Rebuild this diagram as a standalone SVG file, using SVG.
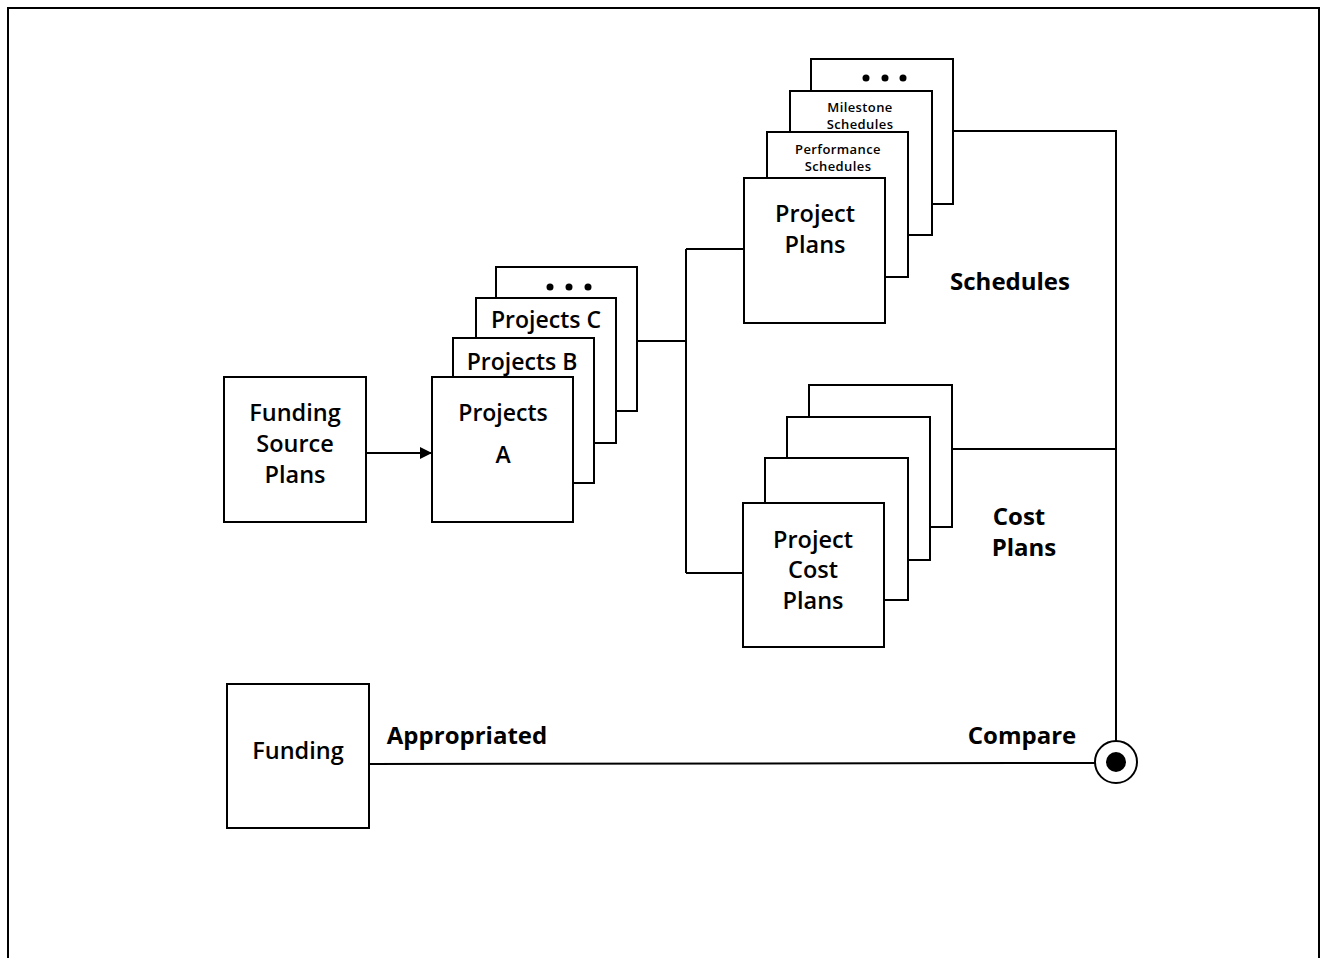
<svg xmlns="http://www.w3.org/2000/svg" width="1320" height="958" viewBox="0 0 1320 958">
  <defs>
    <marker id="arrow" markerWidth="12" markerHeight="12" refX="11" refY="6" orient="auto" markerUnits="userSpaceOnUse">
      <path d="M0,0 L12,6 L0,12 Z" fill="#000"/>
    </marker>
    <style>
      .box { fill: #fff; stroke: #000; stroke-width: 2; }
      .wire { fill: none; stroke: #000; stroke-width: 2; }
      text { font-family: "Open Sans", "Noto Sans", sans-serif; fill: #000; text-anchor: middle; font-weight: 600; }
      .big { font-size: 23.5px; }
      .mid { font-size: 23px; }
      .small { font-size: 13px; letter-spacing: 0.4px; }
      .lbl { font-size: 24px; font-weight: bold; }
      .dot { fill: #000; }
    </style>
  </defs>
  <rect width="1320" height="958" fill="#fff"/>
  <!-- frame -->
  <path d="M8,958 L8,8 L1319,8 L1319,958" fill="none" stroke="#000" stroke-width="2"/>

  <!-- connectors -->
  <g id="connectors">
    <line class="wire" x1="366" y1="453" x2="431" y2="453" marker-end="url(#arrow)"/>
    <path class="wire" d="M637,341 H686 M686,249 V573 M686,249 H744 M686,573 H743"/>
    <path class="wire" d="M953,131 H1116 V741 M952,449 H1116"/>
    <line class="wire" x1="369" y1="764" x2="1095" y2="763"/>
    <line class="wire" x1="1116" y1="741" x2="1116" y2="762"/>
  </g>

  <g id="funding-source-plans">
    <rect class="box" x="224" y="377" width="142" height="145"/>
    <text class="big" x="295" y="421">Funding</text>
    <text class="big" x="295" y="452">Source</text>
    <text class="big" x="295" y="483">Plans</text>
  </g>

  <g id="projects-more">
    <rect class="box" x="496" y="267" width="141" height="144"/>
    <circle class="dot" cx="550" cy="287" r="3.5"/>
    <circle class="dot" cx="569" cy="287" r="3.5"/>
    <circle class="dot" cx="588" cy="287" r="3.5"/>
  </g>
  <g id="projects-c">
    <rect class="box" x="476" y="298" width="140" height="145"/>
    <text class="mid" x="546" y="328">Projects C</text>
  </g>
  <g id="projects-b">
    <rect class="box" x="453" y="338" width="141" height="145"/>
    <text class="mid" x="522" y="370">Projects B</text>
  </g>
  <g id="projects-a">
    <rect class="box" x="432" y="377" width="141" height="145"/>
    <text class="mid" x="503" y="421">Projects</text>
    <text class="mid" x="503" y="463">A</text>
  </g>

  <g id="schedules-more">
    <rect class="box" x="811" y="59" width="142" height="145"/>
    <circle class="dot" cx="866" cy="78" r="3.5"/>
    <circle class="dot" cx="885" cy="78" r="3.5"/>
    <circle class="dot" cx="903" cy="78" r="3.5"/>
  </g>
  <g id="milestone-schedules">
    <rect class="box" x="790" y="91" width="142" height="144"/>
    <text class="small" x="860" y="112">Milestone</text>
    <text class="small" x="860" y="129">Schedules</text>
  </g>
  <g id="performance-schedules">
    <rect class="box" x="767" y="132" width="141" height="145"/>
    <text class="small" x="838" y="154">Performance</text>
    <text class="small" x="838" y="171">Schedules</text>
  </g>
  <g id="project-plans">
    <rect class="box" x="744" y="178" width="141" height="145"/>
    <text class="big" x="815" y="222">Project</text>
    <text class="big" x="815" y="253">Plans</text>
  </g>

  <g id="cost-plan-4">
    <rect class="box" x="809" y="385" width="143" height="142"/>
  </g>
  <g id="cost-plan-3">
    <rect class="box" x="787" y="417" width="143" height="143"/>
  </g>
  <g id="cost-plan-2">
    <rect class="box" x="765" y="458" width="143" height="142"/>
  </g>
  <g id="project-cost-plans">
    <rect class="box" x="743" y="503" width="141" height="144"/>
    <text class="big" x="813" y="548">Project</text>
    <text class="big" x="813" y="578">Cost</text>
    <text class="big" x="813" y="609">Plans</text>
  </g>

  <g id="funding">
    <rect class="box" x="227" y="684" width="142" height="144"/>
    <text class="big" x="298" y="759">Funding</text>
  </g>

  <g id="compare">
    <circle cx="1116" cy="762" r="21" fill="#fff" stroke="#000" stroke-width="2"/>
    <circle cx="1116" cy="762" r="10" fill="#000"/>
  </g>

  <g id="labels">
    <text class="lbl" x="1010" y="290">Schedules</text>
    <text class="lbl" x="1019" y="525">Cost</text>
    <text class="lbl" x="1024" y="556">Plans</text>
    <text class="lbl" x="467" y="744">Appropriated</text>
    <text class="lbl" x="1022" y="744">Compare</text>
  </g>
</svg>
